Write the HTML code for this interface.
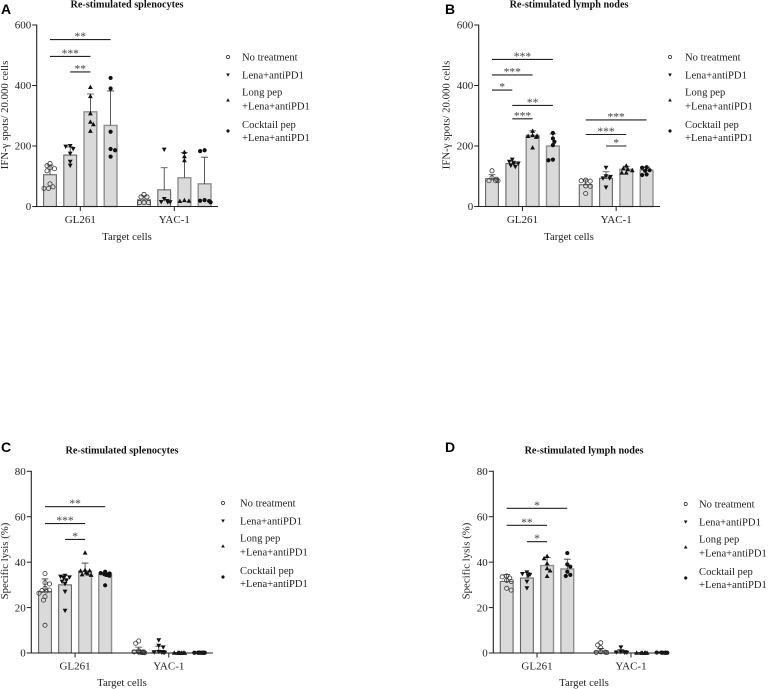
<!DOCTYPE html>
<html lang="en">
<head>
<meta charset="utf-8">
<title>IFN-gamma spots and specific lysis</title>
<style>
html,body{margin:0;padding:0;background:#fff;}
svg{display:block;font-family:"Liberation Serif",serif;}
</style>
</head>
<body>
<svg id="figure" xmlns="http://www.w3.org/2000/svg" width="768" height="689" viewBox="0 0 768 689"></svg>
<script>
const groupNames = ['GL261', 'YAC-1'];
const legendLabels = [['No treatment'], ['Lena+antiPD1'], ['Long pep', '+Lena+antiPD1'], ['Cocktail pep', '+Lena+antiPD1']];
const spotTicks = [0, 200, 400, 600];
const lysisTicks = [0, 20, 40, 60, 80];

const aMeans = [105, 170, 313, 268, 22, 55, 95, 75];
const aErrors = [137, 197, 372, 382, 35, 128, 178, 163];
const aPoints = [
  [142, 135, 128, 125, 118, 75, 65, 60, 60],
  [200, 198, 190, 175, 148, 135],
  [395, 365, 308, 280, 272, 250],
  [425, 390, 247, 190, 186, 165],
  [40, 32, 32, 13, 13, 13],
  [188, 25, 18, 15, 14, 14],
  [180, 166, 153, 21, 19, 18],
  [186, 183, 21, 19, 18, 14]
];
const aBrackets = [[0, 3, 552, '**'], [0, 2, 496, '***'], [1, 2, 445, '**']];

const bMeans = [92, 142, 235, 200, 72, 93, 123, 120];
const bErrors = [105, 150, 250, 240, 88, 115, 133, 130];
const bPoints = [
  [118, 95, 90, 85, 85, 85],
  [155, 148, 142, 142, 135, 131],
  [250, 236, 234, 233, 230, 195],
  [243, 225, 214, 203, 155, 153],
  [87, 85, 84, 68, 67, 43],
  [128, 100, 98, 93, 93, 63],
  [135, 126, 123, 120, 112, 112],
  [130, 128, 120, 118, 106, 104]
];
const bBrackets = [[0, 3, 486, '***'], [0, 2, 435, '***'], [0, 1, 385, '*'], [1, 3, 334, '**'], [1, 2, 290, '***'], [4, 7, 286, '***'], [4, 6, 238, '***'], [5, 6, 200, '*']];

const cMeans = [27, 30, 36, 34.5, 1.2, 1, 0.1, 0.1];
const cErrors = [32.6, 34, 39.6, 35.5, 2.6, 3, 0.2, 0.2];
const cPoints = [
  [35, 31, 30.4, 28.5, 27.7, 27.5, 27.3, 26.3, 24.8, 23.3, 12.2],
  [34, 33.6, 33.3, 33, 32, 31.4, 30.4, 27, 18.6],
  [44.2, 36.6, 36.3, 36.2, 35.5, 35, 34.6, 34.4],
  [35.8, 35.2, 35, 34.7, 34.4, 34.4, 34, 29.8],
  [5.3, 4.3, 1, 0.5, 0.5, 0.4, 0.4, 0.3, 0.2, 0.2, 0.1],
  [5.6, 3.2, 2.5, 0.5, 0.4, 0.3, 0.2, 0.2, 0.1],
  [0.1, 0.1, 0.1, 0.1, 0.1, 0.1, 0.1, 0.1],
  [0.2, 0.1, 0.1, 0.1, 0.1, 0.1, 0.1, 0.1]
];
const cBrackets = [[0, 3, 64.4, '**'], [0, 2, 57, '***'], [1, 2, 50, '*']];

const dMeans = [31.5, 33, 38.5, 37, 0.8, 0.5, 0.1, 0.2];
const dErrors = [34.5, 35.5, 42, 41.3, 2, 1.5, 0.2, 0.3];
const dPoints = [
  [33.9, 33.5, 33, 32, 31.5, 28.5, 27.7],
  [35.5, 34.8, 34.4, 34, 31.4, 28.5],
  [42.7, 41.7, 39.5, 37.3, 36.3, 33.9],
  [44, 39, 38, 35.8, 34.4, 33.9],
  [4.5, 3.5, 2.3, 0.5, 0.4, 0.3, 0.2],
  [2.5, 0.5, 0.4, 0.3, 0.2, 0.1],
  [0.1, 0.1, 0.1, 0.1, 0.1, 0.1],
  [0.2, 0.2, 0.1, 0.1, 0.1, 0.1]
];
const dBrackets = [[0, 3, 63.7, '*'], [0, 2, 56.2, '**'], [1, 2, 49, '*']];

const NS = 'http://www.w3.org/2000/svg';
const root = document.getElementById('figure');
function make(tag, attrs, parent) {
  const node = document.createElementNS(NS, tag);
  for (const key in attrs) node.setAttribute(key, attrs[key]);
  parent.appendChild(node);
  return node;
}
function label(parent, content, x, y, size, anchor, weight, fill) {
  const t = make('text', {x: x, y: y, 'font-size': size, 'text-anchor': anchor, 'font-weight': weight || 'normal', fill: fill || '#222'}, parent);
  t.textContent = content;
  return t;
}
function marker(parent, kind, x, y, scale) {
  const s = scale || 1;
  let m;
  if (kind === 0) m = make('circle', {cx: x, cy: y, r: 2.1 * s, fill: 'none', stroke: '#3a3a3a', 'stroke-width': 0.8}, parent);
  if (kind === 1) m = make('path', {d: 'M' + (x - 2.4 * s) + ' ' + (y - 2 * s) + 'h' + (4.8 * s) + 'l' + (-2.4 * s) + ' ' + (4.4 * s) + 'z', fill: '#111'}, parent);
  if (kind === 2) m = make('path', {d: 'M' + (x - 2.4 * s) + ' ' + (y + 2 * s) + 'h' + (4.8 * s) + 'l' + (-2.4 * s) + ' ' + (-4.4 * s) + 'z', fill: '#111'}, parent);
  if (kind === 3) m = make('circle', {cx: x, cy: y, r: 2.1 * s, fill: '#111'}, parent);
  return m;
}
function swarm(values, yScale) {
  const placed = [];
  const sorted = values.slice().sort(function (p, q) { return q - p; });
  sorted.forEach(function (v, i) {
    const py = yScale(v);
    const sign = i % 2 ? -1 : 1;
    let off = null;
    for (let k = 0; k <= 4 && off === null; k++) {
      for (const s of [sign, -sign]) {
        const candidate = s * k * 1.5;
        const free = placed.every(function (p) { return Math.hypot(p.x - candidate, p.y - py) >= 3.6; });
        if (free && off === null) off = candidate;
      }
    }
    if (off === null) off = -6 + 12 * i / Math.max(1, sorted.length - 1);
    placed.push({x: off, y: py});
  });
  return placed;
}
function drawPanel(p) {
  const g = make('g', {}, root);
  
  
  const maxTick = p.ticks[p.ticks.length - 1];
  const yScale = function (v) { return p.y0 - v / maxTick * (p.y0 - p.yTop); };
  const xScale = function (i) { const grp = i < 4 ? 0 : 1; return p.firstBar + (i - grp * 4) * p.step + grp * p.groupGap; };

  const letter = make('text', {x: p.letterX, y: p.letterY, 'font-size': 14, 'font-weight': 'bold', style: 'font-family:"Liberation Sans",sans-serif', fill: '#000'}, g);
  letter.textContent = p.letter;
  
  

  const title = label(g, p.title, p.titleX, p.titleY, 10.2, 'middle', 'bold', '#111');
  
  

  p.means.forEach(function (mean, i) {
    const x = xScale(i);
    const bar = make('rect', {x: x - 6.4, y: yScale(mean), width: 12.8, height: p.y0 - yScale(mean), fill: '#d9dad9', stroke: i % 4 < 2 ? '#666' : '#8f8f8f', 'stroke-width': i % 4 < 2 ? 1.1 : 1.4}, g);
    
    
    const top = yScale(p.errors[i]);
    const err = make('path', {d: 'M' + x + ' ' + yScale(mean) + 'V' + top + 'M' + (x - 3.4) + ' ' + top + 'h6.8', stroke: '#333', 'stroke-width': 0.8, fill: 'none'}, g);
    
    
  });
  p.points.forEach(function (values, i) {
    swarm(values, yScale).forEach(function (pt) {
      const dot = marker(g, i % 4, xScale(i) + pt.x, pt.y);
      
      
    });
  });

  const yAxis = make('line', {x1: p.axisX, x2: p.axisX, y1: p.yTop - 0.5, y2: p.y0 + 0.5, stroke: '#222', 'stroke-width': 1.1}, g);
  
  
  const xAxis = make('line', {x1: p.axisX, x2: p.axisEnd, y1: p.y0, y2: p.y0, stroke: '#222', 'stroke-width': 1.1}, g);
  
  

  p.ticks.forEach(function (tick) {
    const y = yScale(tick);
    const mark = make('line', {x1: p.axisX - 4.5, x2: p.axisX, y1: y, y2: y, stroke: '#222', 'stroke-width': 1}, g);
    
    
    const text = label(g, tick, p.axisX - 5.5, y + 3.7, 11, 'end');
    
    
  });
  groupNames.forEach(function (name, i) {
    const x = (xScale(i * 4) + xScale(i * 4 + 3)) / 2;
    const mark = make('line', {x1: x, x2: x, y1: p.y0, y2: p.y0 + 4.5, stroke: '#222', 'stroke-width': 1}, g);
    
    
    const text = label(g, name, x, p.y0 + 16.5, 11, 'middle');
    
    
  });
  const xTitle = label(g, 'Target cells', p.titleX, p.xTitleY, 10.8, 'middle');
  
  
  const yTitle = make('text', {x: 0, y: 0, 'font-size': 10.8, 'text-anchor': 'middle', fill: '#222', transform: 'translate(' + p.yTitleX + ' ' + p.yTitleY + ') rotate(-90)'}, g);
  yTitle.textContent = p.yTitle;
  
  

  p.brackets.forEach(function (b) {
    const y = yScale(b[2]);
    const x1 = xScale(b[0]);
    const x2 = xScale(b[1]);
    const line = make('line', {x1: x1, x2: x2, y1: y, y2: y, stroke: '#222', 'stroke-width': 1.1}, g);
    
    
    const stars = label(g, b[3], (x1 + x2) / 2, y + 0.5, 11.5, 'middle', 'normal', '#444');
    
    
  });

  const textOffsets = [[0], [18], [35, 49], [67.5, 80.5]];
  const markerOffsets = [0, 18, 43, 74];
  legendLabels.forEach(function (lines, i) {
    const entry = make('g', {}, g);
    
    
    const key = marker(entry, i, p.legendMarkerX, p.legendY + markerOffsets[i], 0.75);
    
    
    lines.forEach(function (line, j) {
      const text = label(entry, line, p.legendTextX, p.legendY + textOffsets[i][j] + 3.5, 10.6, 'start');
      
      
    });
  });
}

drawPanel({letter: 'A', title: 'Re-stimulated splenocytes', yTitle: 'IFN-\u03B3 spots/ 20.000 cells', ticks: spotTicks, means: aMeans, errors: aErrors, points: aPoints, brackets: aBrackets,
  letterX: 1, letterY: 14, titleX: 127, titleY: 7.5, axisX: 36.7, axisEnd: 218, y0: 206.5, yTop: 25, firstBar: 50, step: 20.2, groupGap: 94, xTitleY: 240, yTitleX: 8, yTitleY: 115, legendMarkerX: 228, legendTextX: 242, legendY: 57});
drawPanel({letter: 'B', title: 'Re-stimulated lymph nodes', yTitle: 'IFN-\u03B3 spots/ 20.000 cells', ticks: spotTicks, means: bMeans, errors: bErrors, points: bPoints, brackets: bBrackets,
  letterX: 445, letterY: 14, titleX: 569, titleY: 7.5, axisX: 478.7, axisEnd: 660, y0: 206.5, yTop: 25, firstBar: 492, step: 20.3, groupGap: 93.7, xTitleY: 240, yTitleX: 449.5, yTitleY: 115, legendMarkerX: 670, legendTextX: 685, legendY: 57});
drawPanel({letter: 'C', title: 'Re-stimulated splenocytes', yTitle: 'Specific lysis (%)', ticks: lysisTicks, means: cMeans, errors: cErrors, points: cPoints, brackets: cBrackets,
  letterX: 1, letterY: 452, titleX: 122, titleY: 453.5, axisX: 31.3, axisEnd: 213, y0: 653, yTop: 471.3, firstBar: 45, step: 20.05, groupGap: 93.7, xTitleY: 686, yTitleX: 8, yTitleY: 561, legendMarkerX: 223, legendTextX: 240, legendY: 503});
drawPanel({letter: 'D', title: 'Re-stimulated lymph nodes', yTitle: 'Specific lysis (%)', ticks: lysisTicks, means: dMeans, errors: dErrors, points: dPoints, brackets: dBrackets,
  letterX: 445, letterY: 452, titleX: 584, titleY: 453.5, axisX: 493.3, axisEnd: 668, y0: 653, yTop: 471.3, firstBar: 506.7, step: 20.2, groupGap: 94, xTitleY: 686, yTitleX: 469.5, yTitleY: 561, legendMarkerX: 685.7, legendTextX: 699, legendY: 504});
</script>
</body>
</html>
